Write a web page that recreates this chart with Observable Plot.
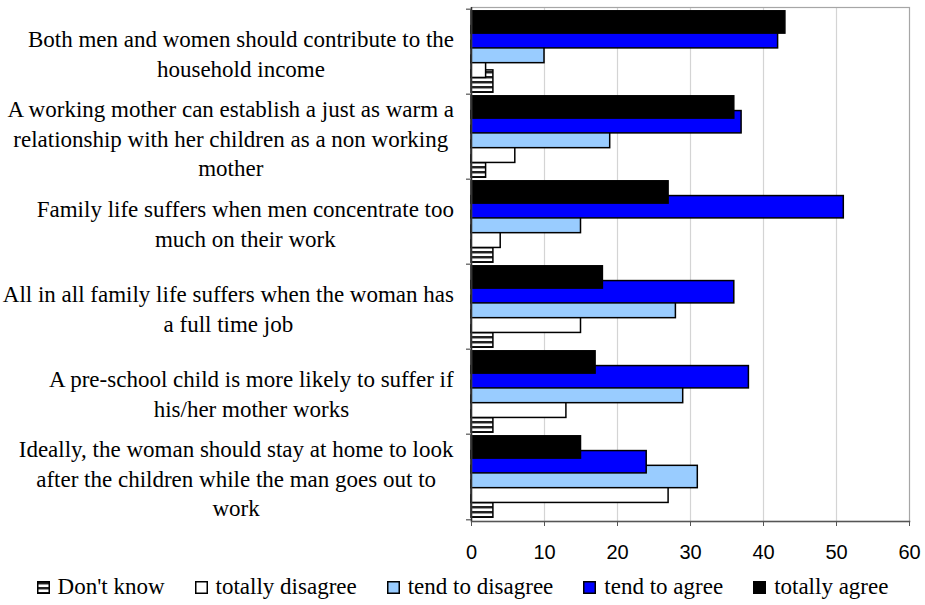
<!DOCTYPE html>
<html>
<head>
<meta charset="utf-8">
<style>
  body { margin: 0; background: #fff; }
  #chart { position: relative; width: 925px; height: 605px; background: #fff; }
  #chart > svg { display: block; }
  #legend {
    position: absolute; left: 0; top: 575px; width: 925px; height: 24px;
    display: flex; justify-content: center; align-items: center; gap: 30px;
    font-size: 23px; line-height: 24px; color: #000;
  }
  #legend .item { display: flex; align-items: center; gap: 8px; white-space: nowrap; }
  #legend svg { display: block; }
</style>
<script src="https://cdn.jsdelivr.net/npm/d3@7"></script>
<script src="https://cdn.jsdelivr.net/npm/@observablehq/plot@0.6"></script>
</head>
<body>
<div id="chart"></div>
<script>
// Survey statements (top to bottom) and their wrapped tick labels
const questions = [
  "Both men and women should contribute to the household income",
  "A working mother can establish a just as warm a relationship with her children as a non working mother",
  "Family life suffers when men concentrate too much on their work",
  "All in all family life suffers when the woman has a full time job",
  "A pre-school child is more likely to suffer if his/her mother works",
  "Ideally, the woman should stay at home to look after the children while the man goes out to work"
];
const questionLabels = [
  "Both men and women should contribute to the\nhousehold income",
  "A working mother can establish a just as warm a\nrelationship with her children as a non working\nmother",
  "Family life suffers when men concentrate too\nmuch on their work",
  "All in all family life suffers when the woman has\na full time job",
  "A pre-school child is more likely to suffer if\nhis/her mother works",
  "Ideally, the woman should stay at home to look\nafter the children while the man goes out to\nwork"
];

// Percentages per answer, one value per statement
const dontKnow        = [3, 2, 3, 3, 3, 3];
const totallyDisagree = [2, 6, 4, 15, 13, 27];
const tendToDisagree  = [10, 19, 15, 28, 29, 31];
const tendToAgree     = [42, 37, 51, 36, 38, 24];
const totallyAgree    = [43, 36, 27, 18, 17, 15];

const seriesNames = ["Don't know", "totally disagree", "tend to disagree", "tend to agree", "totally agree"];
const seriesValues = [dontKnow, totallyDisagree, tendToDisagree, tendToAgree, totallyAgree];
const seriesFills = ["url(#dk-stripes)", "#ffffff", "#99ccff", "#0000ff", "#000000"];

const xTicks = [0, 10, 20, 30, 40, 50, 60];

const serifFont = "'Liberation Serif'";
const sansFont = "'Liberation Sans'";

// Frame geometry
const width = 925, height = 565;
const marginTop = 7, marginBottom = 44, marginLeft = 471, marginRight = 16;
const band = (height - marginTop - marginBottom) / questions.length;
const step = band / 5.8;       // five overlapping bars per statement
const barH = 23;
function barInsets(slot) {      // slot 0 = uppermost bar in the group
  const t = step * (0.4 + slot) + (step - barH) / 2;
  return {insetTop: t, insetBottom: band - t - barH};
}

// Bars are drawn bottom slot first so each upper bar overlaps the one below
const bars = seriesValues.map((values, j) =>
  Plot.barX(questions, {
    x: (d, i) => values[i],
    y: (d) => d,
    fill: seriesFills[j],
    stroke: "#000",
    strokeWidth: 1.5,
    ...barInsets(seriesValues.length - 1 - j)
  })
);

const svg = Plot.plot({
  width, height, marginTop, marginBottom, marginLeft, marginRight,
  style: {background: "#fff", color: "#000", overflow: "visible", fontFamily: serifFont, fontSize: "23px"},
  x: {domain: [0, 60]},
  y: {domain: questions, padding: 0},
  marks: [
    Plot.ruleX(xTicks.slice(1, -1), {stroke: "#d4d4d4", strokeWidth: 1.2}),
    ...bars,
    Plot.frame({stroke: "#a6a6a6", strokeWidth: 1.2}),
    Plot.frame({anchor: "bottom", stroke: "#555", strokeWidth: 1.5}),
    Plot.ruleX([0], {stroke: "#333", strokeWidth: 1.5}),
    Plot.axisX(xTicks, {tickSize: 5, tickPadding: 18, stroke: "#555", label: null, fontSize: 20, fontFamily: sansFont}),
    Plot.axisY({tickSize: 5, tickFormat: () => "", dy: -band / 2, stroke: "#333", label: null}),
    Plot.axisY([questions[questions.length - 1]], {tickSize: 5, tickFormat: () => "", dy: band / 2, stroke: "#333", label: null}),
    Plot.axisY({
      tickSize: 0, tickPadding: 230, textAnchor: "middle", lineHeight: 1.3,
      fontSize: 23, fontFamily: serifFont,
      tickFormat: (d) => questionLabels[questions.indexOf(d)], label: null
    })
  ]
});

// Horizontal stripes for the "Don't know" bars and swatch
const pattern = d3.select(svg).insert("defs", ":first-child")
  .append("pattern")
  .attr("id", "dk-stripes")
  .attr("patternUnits", "userSpaceOnUse")
  .attr("width", 6)
  .attr("height", 5);
pattern.append("rect").attr("width", 6).attr("height", 5).attr("fill", "#fff");
pattern.append("rect").attr("y", 1).attr("width", 6).attr("height", 2).attr("fill", "#222");
pattern.append("rect").attr("y", 3).attr("width", 6).attr("height", 1).attr("fill", "#999");

const chart = document.getElementById("chart");
chart.append(svg);

// Each label block sits flush right at the same edge, its lines centered within the block
const labelRight = 454;
const svgBox = svg.getBoundingClientRect();
[...svg.querySelectorAll('g[aria-label="y-axis tick label"] text')]
  .filter((el) => el.textContent.trim())
  .forEach((el) => {
    const r = el.getBoundingClientRect();
    const delta = (labelRight - r.width) - (r.left - svgBox.left);
    el.setAttribute("transform", `translate(${delta},0) ${el.getAttribute("transform") || ""}`);
  });

// Legend
const legend = document.createElement("div");
legend.id = "legend";
legend.style.fontFamily = serifFont;
seriesNames.forEach((name, j) => {
  const item = document.createElement("div");
  item.className = "item";
  item.innerHTML = `<svg width="13" height="13"><rect x="0.75" y="0.75" width="11.5" height="11.5" fill="${seriesFills[j]}" stroke="#000" stroke-width="1.5"></rect></svg><span>${name}</span>`;
  legend.append(item);
});
chart.append(legend);
</script>
</body>
</html>
